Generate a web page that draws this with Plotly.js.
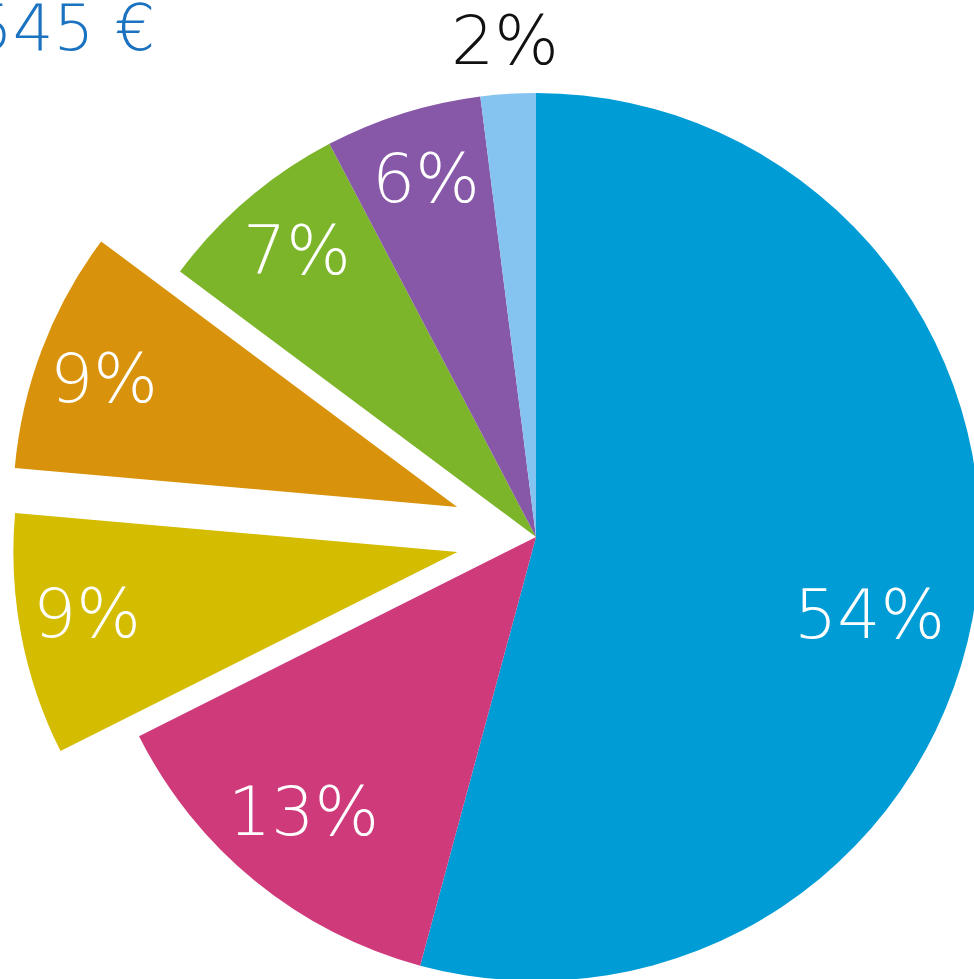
<!DOCTYPE html>
<html>
<head>
<meta charset="utf-8">
<script src="https://cdn.plot.ly/plotly-3.0.1.min.js"></script>
<style>
html, body { margin: 0; padding: 0; overflow: hidden; background: #ffffff; }
#chart { position: absolute; left: 0; top: 0; width: 1065px; height: 1066px; }
</style>
</head>
<body>
<div id="chart"></div>
<script>
const shares = [54.2, 13.4, 8.8, 8.8, 7.1, 5.7, 2.0];
const sliceNames = ["A", "B", "C", "D", "E", "F", "G"];
const percentLabels = ["54%", "13%", "9%", "9%", "7%", "6%", "2%"];
const sliceColors = ["#009CD5", "#CF3A7A", "#D4BC00", "#D9920B", "#7DB52A", "#8757A8", "#85C4F0"];
const labelColors = ["#ffffff", "#ffffff", "#ffffff", "#ffffff", "#ffffff", "#ffffff", "#111111"];
const pulls = [0, 0, 0.18, 0.19, 0, 0, 0];
const totalLabel = "545 €";

// label placement (style): radius fraction and angular shift per slice
const labelRadius = [0.77, 0.81, 0.845, 0.845, 0.84, 0.845, 1.12];
const labelShift = [5.5, 1, 1.4, -0.9, 0.6, 0.4, 0];

const FONT = "'DejaVu Sans ExtraLight', 'DejaVu Sans', sans-serif";
const W = 1065, H = 1066;
const cx = 536, cy = 537, box = 1057;
const maxPull = Math.max(...pulls);
const R = box / (2 + 2 * maxPull);

const trace = {
  type: "pie",
  values: shares,
  labels: sliceNames,
  sort: false,
  direction: "clockwise",
  rotation: 0,
  pull: pulls,
  marker: { colors: sliceColors, line: { width: 0 } },
  textinfo: "none",
  hoverinfo: "none",
  showlegend: false,
  domain: {
    x: [(cx - box / 2) / W, (cx + box / 2) / W],
    y: [1 - (cy + box / 2) / H, 1 - (cy - box / 2) / H]
  }
};

const annotations = [{
  text: totalLabel,
  xref: "paper", yref: "paper",
  x: 157 / W, y: 1 - 28 / H,
  xanchor: "right", yanchor: "middle",
  showarrow: false,
  font: { color: "#1A72C0", size: 64, family: FONT, weight: 200 }
}];

const total = shares.reduce((a, b) => a + b, 0);
let cum = 0;
shares.forEach((v, i) => {
  const mid = (cum + v / 2) / total * 360;
  cum += v;
  const a = (mid + labelShift[i]) * Math.PI / 180;
  const m = mid * Math.PI / 180;
  const ox = cx + pulls[i] * R * Math.sin(m);
  const oy = cy - pulls[i] * R * Math.cos(m);
  const px = ox + labelRadius[i] * R * Math.sin(a);
  const py = oy - labelRadius[i] * R * Math.cos(a);
  annotations.push({
    text: percentLabels[i],
    xref: "paper", yref: "paper",
    x: px / W, y: 1 - py / H,
    xanchor: "center", yanchor: "middle",
    showarrow: false,
    font: { color: labelColors[i], size: 68, family: FONT, weight: 200 }
  });
});

const layout = {
  width: W,
  height: H,
  margin: { l: 0, r: 0, t: 0, b: 0 },
  paper_bgcolor: "#ffffff",
  showlegend: false,
  annotations: annotations
};

Plotly.newPlot("chart", [trace], layout, { displayModeBar: false, staticPlot: true });
</script>
</body>
</html>
